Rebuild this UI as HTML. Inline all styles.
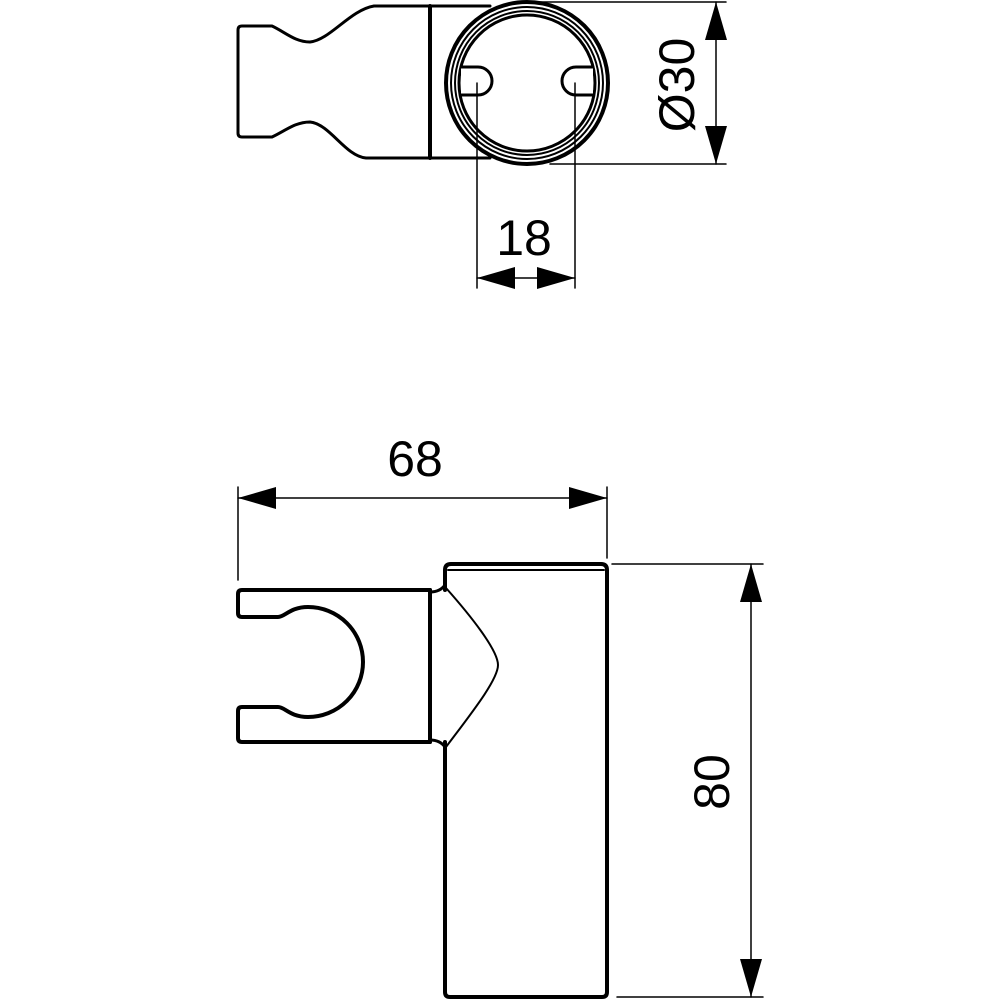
<!DOCTYPE html>
<html><head><meta charset="utf-8"><style>
html,body{margin:0;padding:0;background:#fff;width:1000px;height:1000px;overflow:hidden}
svg{display:block}
text{font-family:"Liberation Sans",sans-serif;fill:#000}
</style></head><body>
<svg width="1000" height="1000" viewBox="0 0 1000 1000" xmlns="http://www.w3.org/2000/svg">
<g fill="none" stroke="#000" stroke-linejoin="round" stroke-linecap="round">
<!-- TOP VIEW -->
<path stroke-width="3" d="M374,6 L490,6 M366,158 L490,158 M374,6 C350,10 330,40 310,42 C295,42 285,32 272,26 L242,26 Q238,26 238,30 L238,133 Q238,137 242,137 L272,137 C285,131 295,122 310,122 C330,124 345,156 366,158"/>
<line x1="430" y1="6" x2="430" y2="158" stroke-width="4"/>
<circle cx="527" cy="83" r="81" stroke-width="4"/>
<circle cx="527" cy="83" r="76" stroke-width="2"/>
<circle cx="527" cy="83" r="72" stroke-width="2"/>
<circle cx="527" cy="83" r="68" stroke-width="3"/>
<path stroke-width="3" fill="#fff" d="M461,67 L478,67 A14,14 0 0 1 478,95 L461,95"/>
<path stroke-width="3" fill="#fff" d="M593,67 L576,67 A14,14 0 0 0 576,95 L593,95"/>
<g stroke-width="1.5">
<line x1="477" y1="83" x2="477" y2="288"/>
<line x1="575" y1="83" x2="575" y2="288"/>
<line x1="477" y1="278" x2="575" y2="278"/>
<line x1="527" y1="2" x2="726" y2="2"/>
<line x1="550" y1="164" x2="726" y2="164"/>
<line x1="716" y1="2" x2="716" y2="164"/>
<!-- BOTTOM -->
<line x1="238" y1="487" x2="238" y2="580"/>
<line x1="607" y1="487" x2="607" y2="558"/>
<line x1="238" y1="498" x2="607" y2="498"/>
<line x1="612" y1="564" x2="763" y2="564"/>
<line x1="617" y1="997" x2="763" y2="997"/>
<line x1="751" y1="564" x2="751" y2="997"/>
</g>
<!-- SIDE VIEW -->
<path stroke-width="4" d="M445,590 L445,570 Q445,564 451,564 L601,564 Q607,564 607,570 L607,992 Q607,997 602,997 L450,997 Q445,997 445,992 L445,742"/>
<line x1="448" y1="570" x2="604" y2="570" stroke-width="2"/>
<path stroke-width="4" d="M430,590 L242,590 Q238,590 238,594 L238,613 Q238,617 242,617 L278,617 C285,617 290,607 308,607 A55,55 0 0 1 308,717 C290,717 285,707 278,707 L242,707 Q238,707 238,711 L238,738 Q238,742 242,742 L430,742"/>
<line x1="430" y1="590" x2="430" y2="742" stroke-width="4"/>
<path stroke-width="3" d="M430,592 Q440,592 445,585 M430,740 Q440,740 445,747"/>
<path stroke-width="2" d="M446,588 C470,615 498,650 498,665 C498,680 470,715 446,747"/>
</g>
<g fill="#000">
<polygon points="477,278 515,267 515,289"/>
<polygon points="575,278 537,267 537,289"/>
<polygon points="716,2 705,40 727,40"/>
<polygon points="716,164 705,126 727,126"/>
<polygon points="238,498 276,487 276,509"/>
<polygon points="607,498 569,487 569,509"/>
<polygon points="751,564 740,602 762,602"/>
<polygon points="751,997 740,959 762,959"/>
</g>
<text x="524" y="255" font-size="50" text-anchor="middle">18</text>
<text x="415" y="476" font-size="50" text-anchor="middle">68</text>
<text transform="translate(694,85) rotate(-90)" font-size="50" text-anchor="middle">Ø30</text>
<text transform="translate(729,782) rotate(-90)" font-size="50" text-anchor="middle">80</text>
</svg>
</body></html>
